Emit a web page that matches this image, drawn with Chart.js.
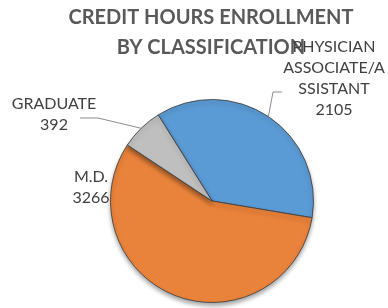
<!DOCTYPE html>
<html>
<head>
<meta charset="utf-8">
<script src="https://cdn.jsdelivr.net/npm/chart.js@4"></script>
<style>
  html, body { margin: 0; padding: 0; background: #fff; }
  canvas { display: block; }
</style>
</head>
<body>
<canvas id="chart" width="388" height="308"></canvas>
<script>
// data
const categories = ['PHYSICIAN ASSOCIATE/ASSISTANT', 'M.D.', 'GRADUATE'];
const labelLines = [['PHYSICIAN', 'ASSOCIATE/A', 'SSISTANT'], ['M.D.'], ['GRADUATE']];
const hours = [2105, 3266, 392];
const titleLines = ['CREDIT HOURS ENROLLMENT', 'BY CLASSIFICATION'];

const colors = ['#5b9bd5', '#e9823a', '#bfbfbf'];

// label placement (text centre x, first line y) and leader line elbows
const labelPos = [
    { x: 334, y: 47, leader: [[282, 92], [273, 92]] },
    { x: 91, y: 177, leader: null },
    { x: 54, y: 104, leader: [[80, 118], [98, 118]] }
];

const FONT = 'Lato, "Liberation Sans", sans-serif';
const TEXT = '#404040';

const labelsPlugin = {
    id: 'excelLabels',
    beforeDatasetsDraw(chart) {
        // soft shadow under the pie
        const ctx = chart.ctx;
        ctx.save();
        ctx.shadowColor = 'rgba(0,0,0,0.35)';
        ctx.shadowBlur = 4;
        ctx.shadowOffsetY = 3;
    },
    afterDatasetsDraw(chart) {
        chart.ctx.restore();
    },
    afterDraw(chart) {
        const ctx = chart.ctx;
        ctx.save();
        // title
        ctx.fillStyle = '#595959';
        ctx.font = 'bold 20px ' + FONT;
        ctx.textAlign = 'center';
        ctx.textBaseline = 'middle';
        ctx.fillText(titleLines[0], 211, 18);
        ctx.fillText(titleLines[1], 211, 48);

        const meta = chart.getDatasetMeta(0);
        meta.data.forEach((arc, i) => {
            const pos = labelPos[i];
            const mid = (arc.startAngle + arc.endAngle) / 2;
            if (pos.leader) {
                const ex = arc.x + Math.cos(mid) * arc.outerRadius;
                const ey = arc.y + Math.sin(mid) * arc.outerRadius;
                ctx.strokeStyle = '#8c8c8c';
                ctx.lineWidth = 1;
                ctx.beginPath();
                ctx.moveTo(pos.leader[0][0], pos.leader[0][1]);
                ctx.lineTo(pos.leader[1][0], pos.leader[1][1]);
                ctx.lineTo(ex, ey);
                ctx.stroke();
            }
            ctx.fillStyle = TEXT;
            ctx.font = '16px ' + FONT;
            const lines = labelLines[i].concat([String(hours[i])]);
            lines.forEach((t, j) => ctx.fillText(t, pos.x, pos.y + j * 21));
        });
        ctx.restore();
    }
};

new Chart(document.getElementById('chart'), {
    type: 'pie',
    data: {
        labels: categories,
        datasets: [{
            data: hours,
            backgroundColor: colors,
            borderColor: 'rgba(64,64,64,0.85)',
            borderWidth: 1
        }]
    },
    options: {
        responsive: false,
        animation: false,
        devicePixelRatio: 1,
        rotation: -32,
        layout: { padding: { left: 109, right: 73, top: 99, bottom: 5 } },
        plugins: {
            legend: { display: false },
            title: { display: false },
            tooltip: { enabled: false }
        }
    },
    plugins: [labelsPlugin]
});
</script>
</body>
</html>
